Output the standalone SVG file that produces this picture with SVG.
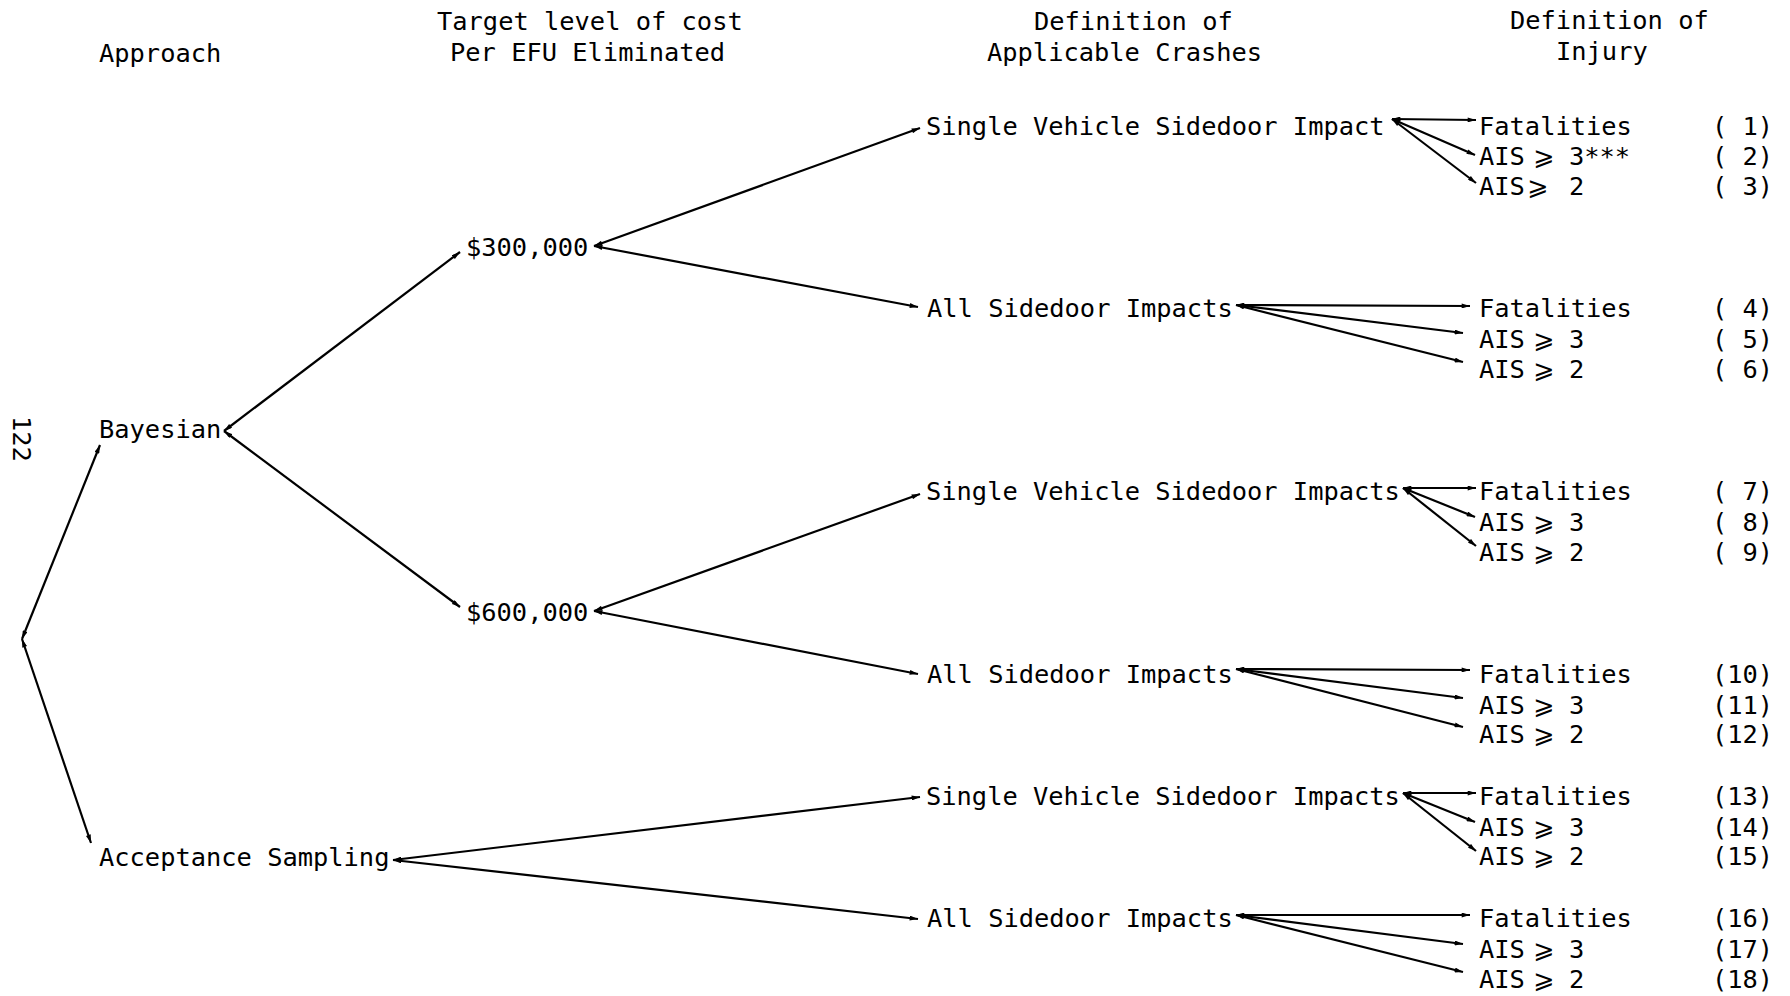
<svg xmlns="http://www.w3.org/2000/svg" width="1790" height="996" viewBox="0 0 1790 996">
<defs>
<style>
text{font-family:"DejaVu Sans Mono","Liberation Mono",monospace;font-size:25.4px;fill:#000}
.ge{font-family:"DejaVu Sans","DejaVu Sans Mono",sans-serif;font-size:25.4px}
.c line{stroke:#000;stroke-width:2.2;fill:none;marker-start:url(#ah);marker-end:url(#ah)}
</style>
<marker id="ah" viewBox="0 0 10 6" refX="10" refY="3" markerWidth="9" markerHeight="5" markerUnits="userSpaceOnUse" orient="auto-start-reverse">
<path d="M0,0 L10,3 L0,6 z" fill="#000"/>
</marker>
</defs>
<rect width="1790" height="996" fill="#fff"/>
<g id="headers">
<text x="99" y="61.5">Approach</text>
<text x="437" y="29.5">Target level of cost</text>
<text x="450" y="60.5">Per EFU Eliminated</text>
<text x="1034" y="29.5">Definition of</text>
<text x="987" y="60.5">Applicable Crashes</text>
<text x="1510" y="28.5">Definition of</text>
<text x="1556" y="60">Injury</text>
</g>
<text id="page" transform="translate(13,416) rotate(90)">122</text>
<g class="c" id="connectors">
<line x1="22" y1="639" x2="100" y2="445"/>
<line x1="22" y1="639" x2="91" y2="843"/>
<line x1="224" y1="431" x2="460" y2="252"/>
<line x1="224" y1="431" x2="460" y2="607"/>
<line x1="594" y1="246" x2="920" y2="128"/>
<line x1="594" y1="246" x2="918" y2="307"/>
<line x1="594" y1="611" x2="920" y2="494"/>
<line x1="594" y1="611" x2="918" y2="674"/>
<line x1="393" y1="860" x2="920" y2="797"/>
<line x1="393" y1="860" x2="918" y2="919"/>
<line x1="1392" y1="119" x2="1476" y2="120"/>
<line x1="1392" y1="119" x2="1475" y2="155"/>
<line x1="1392" y1="119" x2="1476" y2="183"/>
<line x1="1236" y1="305" x2="1470" y2="306"/>
<line x1="1236" y1="305" x2="1463" y2="333"/>
<line x1="1236" y1="305" x2="1463" y2="362"/>
<line x1="1403" y1="488" x2="1476" y2="488"/>
<line x1="1403" y1="488" x2="1475" y2="517"/>
<line x1="1403" y1="488" x2="1476" y2="546"/>
<line x1="1236" y1="669" x2="1470" y2="670"/>
<line x1="1236" y1="669" x2="1463" y2="698"/>
<line x1="1236" y1="669" x2="1463" y2="727"/>
<line x1="1403" y1="793" x2="1476" y2="793"/>
<line x1="1403" y1="793" x2="1475" y2="822"/>
<line x1="1403" y1="793" x2="1476" y2="851"/>
<line x1="1236" y1="915" x2="1470" y2="915"/>
<line x1="1236" y1="915" x2="1463" y2="944"/>
<line x1="1236" y1="915" x2="1463" y2="972"/>
</g>
<g id="n-bayesian"><text x="99" y="438">Bayesian</text></g>
<g id="n-acceptance"><text x="99" y="866">Acceptance Sampling</text></g>
<g id="n-300k"><text x="466" y="255.5">$300,000</text></g>
<g id="n-600k"><text x="466" y="621">$600,000</text></g>
<g id="n-c1"><text x="926" y="134.6">Single Vehicle Sidedoor Impact</text></g>
<g id="n-c2"><text x="927" y="317">All Sidedoor Impacts</text></g>
<g id="n-c3"><text x="926" y="500">Single Vehicle Sidedoor Impacts</text></g>
<g id="n-c4"><text x="927" y="682.5">All Sidedoor Impacts</text></g>
<g id="n-c5"><text x="926" y="805">Single Vehicle Sidedoor Impacts</text></g>
<g id="n-c6"><text x="927" y="927">All Sidedoor Impacts</text></g>
<g id="n-r1"><text x="1479" y="134.6">Fatalities</text><text x="1712" y="134.6" xml:space="preserve">( 1)</text></g>
<g id="n-r2"><text x="1479" y="165.4">AIS</text><text class="ge" x="1533" y="165.4">⩾</text><text x="1569" y="165.4">3***</text><text x="1712" y="165.4" xml:space="preserve">( 2)</text></g>
<g id="n-r3"><text x="1479" y="195">AIS</text><text class="ge" x="1527" y="195">⩾</text><text x="1569" y="195">2</text><text x="1712" y="195" xml:space="preserve">( 3)</text></g>
<g id="n-r4"><text x="1479" y="317">Fatalities</text><text x="1712" y="317" xml:space="preserve">( 4)</text></g>
<g id="n-r5"><text x="1479" y="348">AIS</text><text class="ge" x="1533" y="348">⩾</text><text x="1569" y="348">3</text><text x="1712" y="348" xml:space="preserve">( 5)</text></g>
<g id="n-r6"><text x="1479" y="378">AIS</text><text class="ge" x="1533" y="378">⩾</text><text x="1569" y="378">2</text><text x="1712" y="378" xml:space="preserve">( 6)</text></g>
<g id="n-r7"><text x="1479" y="500">Fatalities</text><text x="1712" y="500" xml:space="preserve">( 7)</text></g>
<g id="n-r8"><text x="1479" y="531">AIS</text><text class="ge" x="1533" y="531">⩾</text><text x="1569" y="531">3</text><text x="1712" y="531" xml:space="preserve">( 8)</text></g>
<g id="n-r9"><text x="1479" y="560.5">AIS</text><text class="ge" x="1533" y="560.5">⩾</text><text x="1569" y="560.5">2</text><text x="1712" y="560.5" xml:space="preserve">( 9)</text></g>
<g id="n-r10"><text x="1479" y="682.5">Fatalities</text><text x="1712" y="682.5">(10)</text></g>
<g id="n-r11"><text x="1479" y="713.5">AIS</text><text class="ge" x="1533" y="713.5">⩾</text><text x="1569" y="713.5">3</text><text x="1712" y="713.5">(11)</text></g>
<g id="n-r12"><text x="1479" y="743">AIS</text><text class="ge" x="1533" y="743">⩾</text><text x="1569" y="743">2</text><text x="1712" y="743">(12)</text></g>
<g id="n-r13"><text x="1479" y="805">Fatalities</text><text x="1712" y="805">(13)</text></g>
<g id="n-r14"><text x="1479" y="835.5">AIS</text><text class="ge" x="1533" y="835.5">⩾</text><text x="1569" y="835.5">3</text><text x="1712" y="835.5">(14)</text></g>
<g id="n-r15"><text x="1479" y="865">AIS</text><text class="ge" x="1533" y="865">⩾</text><text x="1569" y="865">2</text><text x="1712" y="865">(15)</text></g>
<g id="n-r16"><text x="1479" y="927">Fatalities</text><text x="1712" y="927">(16)</text></g>
<g id="n-r17"><text x="1479" y="958">AIS</text><text class="ge" x="1533" y="958">⩾</text><text x="1569" y="958">3</text><text x="1712" y="958">(17)</text></g>
<g id="n-r18"><text x="1479" y="987.5">AIS</text><text class="ge" x="1533" y="987.5">⩾</text><text x="1569" y="987.5">2</text><text x="1712" y="987.5">(18)</text></g>
</svg>
